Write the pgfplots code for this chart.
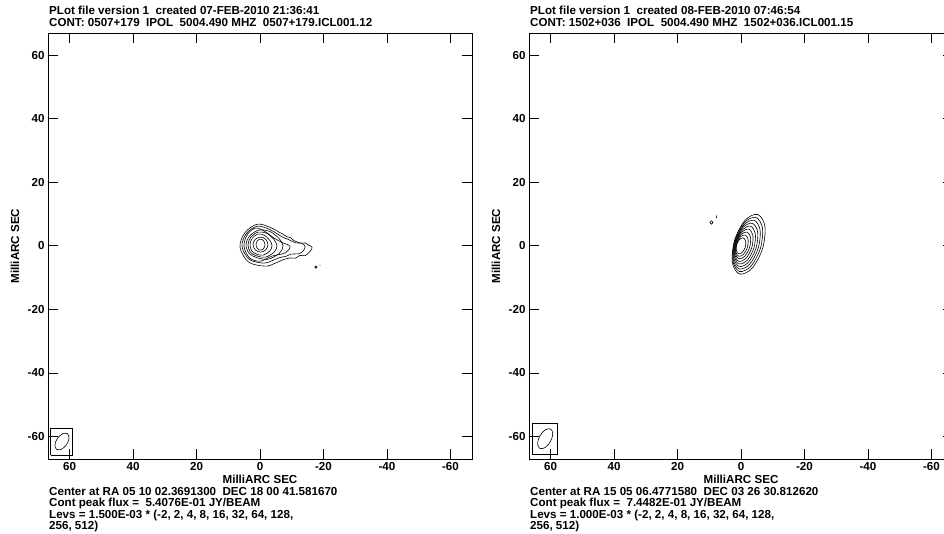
\documentclass[border=0pt]{standalone}
\usepackage{fontspec}
\setmainfont{Liberation Sans}
\usepackage{pgfplots}
\pgfplotsset{compat=1.18}
\newcommand{\tf}{\fontsize{11.6pt}{13pt}\selectfont\bfseries}
\pgfplotsset{
  vlbi/.style={
    scale only axis, width=424pt, height=426pt,
    x dir=reverse, xmin=-66.8, xmax=66.8, ymin=-67.1, ymax=67,
    xtick={-60,-40,-20,0,20,40,60}, xticklabels={-60,-40,-20,0,20,40,60},
    ytick={-60,-40,-20,0,20,40,60}, yticklabels={-60,-40,-20,0,20,40,60},
    tick align=inside, major tick length=10pt,
    axis line style={line width=0.8pt},
    every tick/.style={black, line width=0.8pt},
    tick label style={font=\tf},
    xlabel={MilliARC SEC}, ylabel={MilliARC SEC},
    every axis x label/.style={at={(axis description cs:0.5,0)}, anchor=base, yshift=-24.5pt, font=\tf},
    every axis y label/.style={at={(axis description cs:-0.0778,0.5)}, anchor=center, rotate=90, font=\tf},
  },
  ct/.style={black, line width=0.6pt, smooth cycle, tension=0.55},
  ln/.style={black, line width=0.6pt},
}
\begin{document}
\begin{tikzpicture}[font=\tf]
\path[use as bounding box] (0,0) rectangle (944pt,533pt);
\clip (0,0) rectangle (944pt,533pt);

% ---------- texts, left panel ----------
\node[anchor=base west, inner sep=0] at (49pt,518pt) {PLot file version 1~~created 07-FEB-2010 21:36:41};
\node[anchor=base west, inner sep=0] at (49pt,506.5pt) {CONT: 0507+179~~IPOL~~5004.490 MHZ~~0507+179.ICL001.12};
\node[anchor=base west, inner sep=0] at (49pt,38pt) {Center at RA 05 10 02.3691300~~DEC 18 00 41.581670};
\node[anchor=base west, inner sep=0] at (49pt,27pt) {Cont peak flux =~~5.4076E-01 JY/BEAM};
\node[anchor=base west, inner sep=0] at (49pt,15pt) {Levs = 1.500E-03 * (-2, 2, 4, 8, 16, 32, 64, 128,};
\node[anchor=base west, inner sep=0] at (49pt,3.5pt) {256, 512)};
% ---------- texts, right panel ----------
\node[anchor=base west, inner sep=0] at (530pt,518pt) {PLot file version 1~~created 08-FEB-2010 07:46:54};
\node[anchor=base west, inner sep=0] at (530pt,506.5pt) {CONT: 1502+036~~IPOL~~5004.490 MHZ~~1502+036.ICL001.15};
\node[anchor=base west, inner sep=0] at (530pt,38pt) {Center at RA 15 05 06.4771580~~DEC 03 26 30.812620};
\node[anchor=base west, inner sep=0] at (530pt,27pt) {Cont peak flux =~~7.4482E-01 JY/BEAM};
\node[anchor=base west, inner sep=0] at (530pt,15pt) {Levs = 1.000E-03 * (-2, 2, 4, 8, 16, 32, 64, 128,};
\node[anchor=base west, inner sep=0] at (530pt,3.5pt) {256, 512)};

% ================= LEFT: 0507+179 =================
\begin{axis}[vlbi, at={(48pt,74pt)}, anchor=south west]
\addplot[ct] coordinates {(6.30,-0.41) (4.72,4.20) (0.63,6.85) (-3.90,5.50) (-6.0,4.3) (-7.2,3.7) (-8.4,2.9) (-9.6,2.6) (-10.6,1.7) (-12.9,0.85) (-14.3,0.9) (-15.3,0.2) (-16.4,-0.4) (-15.9,-1.6) (-14.2,-3.1) (-12.6,-3.0) (-11.2,-3.9) (-9.5,-3.8) (-7.2,-4.4) (-4.5,-5.6) (-1.6,-6.4) (3.6,-5.1)};
\addplot[ct] coordinates {(5.67,-0.2) (4.28,3.9) (0.71,6.2) (-3.3,5.05) (-5.2,3.9) (-7.2,2.7) (-9.0,2.0) (-11.2,0.95) (-13.2,0.8) (-14.2,-0.2) (-13.6,-1.6) (-12.2,-2.5) (-9.8,-2.6) (-8.2,-3.3) (-6.2,-3.7) (-3.5,-4.8) (-1.26,-5.45) (3.3,-4.3)};
\addplot[ct] coordinates {(5.04,-0.14) (4.03,3.5) (1.42,5.6) (-1.48,4.55) (-4.38,2.46) (-7.28,0.9) (-9.45,-0.14) (-8.0,-2.2) (-3.65,-3.27) (-0.03,-4.83) (3.3,-3.8)};
\addplot[ct] coordinates {(4.41,0.38) (3.24,3.13) (0.33,4.96) (-3.17,4.5) (-6.08,2.21) (-7.24,-0.08) (-6.08,-2.37) (-2.58,-4.2) (0.91,-3.74) (3.46,-2.37)};
\addplot[ct] coordinates {(3.78,0.38) (2.87,2.75) (0.58,4.33) (-2.16,3.93) (-4.44,1.96) (-5.35,-0.02) (-4.44,-1.99) (-1.7,-3.57) (1.04,-3.17) (3.05,-1.99)};
\addplot[ct] coordinates {(3.15,0.38) (2.46,2.37) (0.72,3.69) (-1.35,3.36) (-3.09,1.71) (-3.78,0.05) (-3.09,-1.61) (-1.01,-2.94) (1.07,-2.6) (2.58,-1.61)};
\addplot[ct] coordinates {(2.2,0.38) (1.5,2.04) (-0.16,2.75) (-1.81,2.04) (-2.52,0.38) (-1.81,-1.28) (-0.16,-1.99) (1.5,-1.28)};
\addplot[ct] coordinates {(1.26,0.38) (0.83,1.59) (-0.16,2.12) (-1.15,1.59) (-1.57,0.38) (-1.15,-0.84) (-0.16,-1.36) (0.83,-0.84)};
\addplot[ct] coordinates {(-17.25,-6.7) (-17.6,-6.35) (-17.95,-6.7) (-17.6,-7.05)};
\addplot[ln] coordinates {(-18.8,-6.0) (-19.0,-6.2)};
\addplot[ln] coordinates {(66.0,-65.9) (59.1,-65.9) (59.1,-57.4) (66.0,-57.4) (66.0,-65.9)};
\addplot[ct] coordinates {(63.83,-60.60) (62.20,-59.15) (60.68,-59.14) (60.17,-60.57) (60.97,-62.61) (62.60,-64.05) (64.12,-64.06) (64.63,-62.63)};
\end{axis}

% ================= RIGHT: 1502+036 =================
\begin{axis}[vlbi, at={(529pt,74pt)}, anchor=south west]
\addplot[ct] coordinates {(2.00,1.84) (-1.31,8.07) (-5.26,9.87) (-7.53,6.18) (-6.80,-0.84) (-3.49,-7.07) (0.46,-8.87) (2.73,-5.18)};
\addplot[ct] coordinates {(1.92,1.67) (-1.09,7.32) (-4.70,8.95) (-6.77,5.59) (-6.12,-0.79) (-3.11,-6.44) (0.50,-8.07) (2.57,-4.71)};
\addplot[ct] coordinates {(1.83,1.49) (-0.88,6.57) (-4.14,8.03) (-6.02,5.01) (-5.43,-0.73) (-2.72,-5.81) (0.54,-7.27) (2.42,-4.25)};
\addplot[ct] coordinates {(1.75,1.30) (-0.67,5.81) (-3.57,7.10) (-5.26,4.41) (-4.75,-0.68) (-2.34,-5.19) (0.57,-6.48) (2.26,-3.79)};
\addplot[ct] coordinates {(1.67,1.13) (-0.45,5.06) (-3.01,6.18) (-4.51,3.82) (-4.07,-0.63) (-1.95,-4.56) (0.61,-5.68) (2.11,-3.32)};
\addplot[ct] coordinates {(1.59,0.95) (-0.23,4.31) (-2.45,5.26) (-3.75,3.24) (-3.39,-0.57) (-1.57,-3.93) (0.65,-4.88) (1.95,-2.86)};
\addplot[ct] coordinates {(1.50,0.77) (-0.02,3.56) (-1.89,4.34) (-2.99,2.65) (-2.70,-0.51) (-1.18,-3.30) (0.69,-4.08) (1.79,-2.39)};
\addplot[ct] coordinates {(1.42,0.59) (0.20,2.80) (-1.32,3.41) (-2.24,2.06) (-2.02,-0.47) (-0.80,-2.68) (0.72,-3.29) (1.64,-1.94)};
\addplot[ct] coordinates {(1.34,0.41) (0.41,2.05) (-0.76,2.49) (-1.48,1.47) (-1.34,-0.41) (-0.41,-2.05) (0.76,-2.49) (1.48,-1.47)};
\addplot[ct] coordinates {(9.8,7.36) (9.3,7.9) (8.8,7.36) (9.3,6.8)};
\addplot[ln] coordinates {(7.75,8.7) (7.65,9.6)};
\addplot[ln] coordinates {(65.7,-65.6) (57.8,-65.6) (57.8,-55.8) (65.7,-55.8) (65.7,-65.6)};
\addplot[ct] coordinates {(63.35,-59.75) (61.63,-57.89) (59.95,-57.67) (59.30,-59.23) (60.06,-61.65) (61.77,-63.52) (63.45,-63.73) (64.10,-62.17)};
\end{axis}
\end{tikzpicture}
\end{document}
